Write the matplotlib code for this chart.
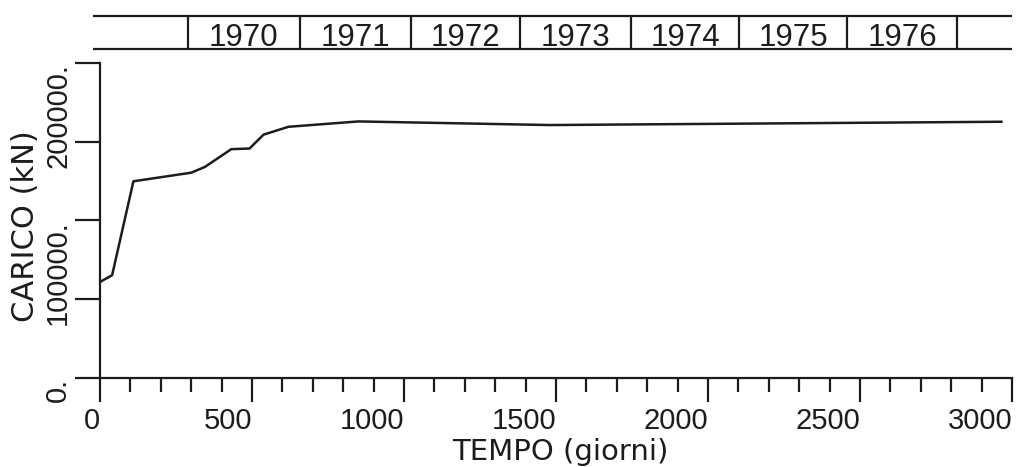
import matplotlib
matplotlib.use('Agg')
import matplotlib.pyplot as plt
from matplotlib.ticker import MultipleLocator

plt.rcParams['font.family'] = ['Liberation Sans', 'DejaVu Sans']

# storia di carico: giorni dall'inizio delle misure, carico in kN
giorni = [0, 40, 110, 300, 345, 432, 492, 538, 620, 850, 1480, 2965]
carico = [60950, 65270, 124900, 130350, 134000, 145300, 145700, 154500,
          159500, 162900, 160600, 162700]

# fascia del calendario: inizio di ogni anno in giorni
inizio_anno = [290, 657, 1022, 1380, 1747, 2103, 2458, 2820]
anni = ['1970', '1971', '1972', '1973', '1974', '1975', '1976']

x_ticks = [0, 500, 1000, 1500, 2000, 2500, 3000]
y_ticks = [0, 100000, 200000]
y_labels = ['0.', '100000.', '200000.']

ink = '#1c1c1c'

fig = plt.figure(figsize=(10.17, 4.67), dpi=100)
ax = fig.add_axes([0.0983, 0.1906, 0.8968, 0.6745])
ax.plot(giorni, carico, color=ink, lw=1.8)
ax.set_xlim(0, 3000)
ax.set_ylim(0, 200000)

for s in ['top', 'right']:
    ax.spines[s].set_visible(False)
for s in ['left', 'bottom']:
    ax.spines[s].set_linewidth(1.6)
    ax.spines[s].set_color(ink)

ax.set_xticks(x_ticks)
ax.set_xticklabels([str(v) for v in x_ticks])
ax.xaxis.set_minor_locator(MultipleLocator(100))
ax.set_yticks(y_ticks)
ax.set_yticklabels(y_labels)
ax.yaxis.set_minor_locator(MultipleLocator(50000))

ax.tick_params(axis='x', which='major', length=17, width=1.6, pad=4,
               labelsize=21, color=ink, labelcolor=ink)
ax.tick_params(axis='x', which='minor', length=10, width=1.6, color=ink)
ax.tick_params(axis='y', which='both', length=18, width=1.6, pad=2,
               labelsize=21, color=ink, labelcolor=ink)
for lab in ax.get_xticklabels():
    lab.set_ha('right')
for lab in ax.get_yticklabels():
    lab.set_rotation(90)
    lab.set_va('top')

ax.set_xlabel('TEMPO (giorni)', fontsize=21, family='DejaVu Sans', color=ink)
ax.xaxis.set_label_coords(0.505, -0.19)
ax.set_ylabel('CARICO (kN)', fontsize=22, family='DejaVu Sans', color=ink)
ax.yaxis.set_label_coords(-0.066, 0.483)

# fascia con gli anni sopra il grafico
band = fig.add_axes([0.0983, 0.8950, 0.8968, 0.0707])
band.set_xlim(0, 3000)
band.set_ylim(0, 1)
band.axis('off')
band.hlines([0, 1], -23, 3000, color=ink, lw=1.6, clip_on=False)
band.vlines(inizio_anno, 0, 1, color=ink, lw=1.6)
for i, a in enumerate(anni):
    xm = (inizio_anno[i] + inizio_anno[i + 1]) / 2
    band.text(xm, 0.09, a, ha='center', va='baseline', fontsize=22.5, color=ink)

fig.savefig('out.png', dpi=100)
